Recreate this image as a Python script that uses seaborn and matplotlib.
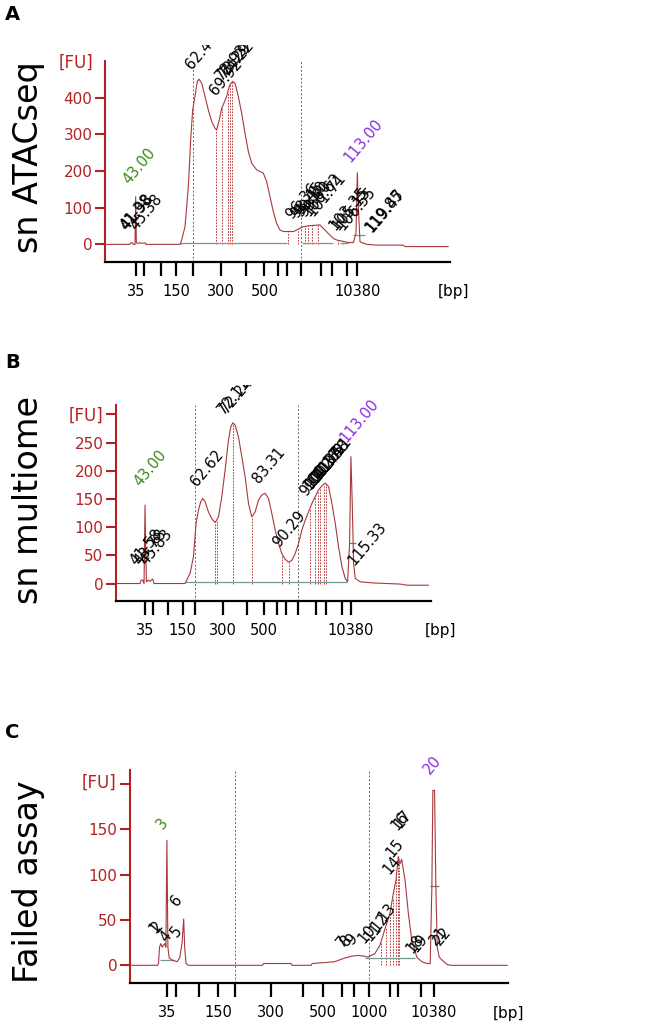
import numpy as np
import matplotlib
matplotlib.use("Agg")
import matplotlib.pyplot as plt
import seaborn as sns

# ---- panel A: sn ATACseq (migration time, fluorescence units)
a_time = [31.5, 39.0, 39.2, 39.8, 40.0, 40.5, 40.7, 40.9, 41.2, 42.0, 42.5, 43.5, 43.8,
          54.0, 54.5, 55.5, 56.5, 57.2, 57.8, 58.5, 59.2, 59.7, 60.5, 61.5, 62.5, 63.5,
          64.5, 65.0, 65.8, 66.5, 67.2, 68.0, 68.5, 69.0, 69.8, 70.5, 71.5, 72.5, 73.5,
          74.5, 75.5, 77.0, 79.0, 80.0, 81.0, 82.0, 83.0, 84.0, 85.0, 88.0, 89.0, 90.0,
          91.0, 93.0, 96.0, 96.5, 97.5, 99.0, 100.0, 101.0, 103.0, 104.5, 106.0, 106.8,
          107.2, 107.5, 108.0, 110.0, 113.0, 121.0, 121.5, 134.5]
a_fu = [0, 0, 4, 4, 0, 0, 130, 5, 3, 4, 3, 4, 0,
        0, 12, 48, 157, 285, 366, 403, 444, 450, 439, 403, 366, 335,
        316, 312, 339, 371, 385, 403, 421, 435, 444, 439, 403, 357, 303,
        253, 221, 203, 194, 171, 130, 89, 57, 39, 35, 35, 39, 44,
        48, 51, 53, 48, 39, 25, 16, 12, 8, 5, 5, 30,
        195, 103, 7, 0, -2, -2, -6, -6]
a_ticks = [40.7, 43.2, 48.4, 52.8, 57.8, 66.2, 73.7, 79.3, 83.5, 86.2, 90.2, 96.3, 99.7, 104.2, 107.2]
a_tick_labels = ["35", "", "", "150", "", "300", "", "500", "", "", "", "", "", "", "10380"]
a_markers = [57.8, 90.2]
a_bounds = [54.2, 64.8, 66.7, 68.3, 69.0, 69.7, 86.5, 89.5, 91.5, 92.5, 93.5, 95.5, 101.5, 103.0]
a_peak_text = ["41.38", "41.98", "45.38", "62.47", "69.92", "72.93", "73.29", "74.22",
               "96.36", "98.45", "99.10", "99.80", "100.62", "101.71",
               "103.35", "105.15", "106.55", "119.85", "119.47"]
a_peak_x = [38.7, 39.0, 41.6, 58.4, 65.4, 67.3, 68.2, 69.0,
            88.4, 89.8, 91.0, 92.2, 93.4, 94.6,
            101.3, 102.3, 103.6, 112.0, 112.4]
a_peak_y = [30, 30, 30, 470, 398, 440, 445, 450,
            62, 64, 66, 66, 68, 68,
            30, 30, 32, 25, 25]
a_lower = ("43.00", 39.4, 157)
a_upper = ("113.00", 105.9, 216)

# ---- panel B: sn multiome
b_time = [34.8, 42.0, 42.3, 42.8, 43.2, 43.5, 43.7, 43.9, 44.5, 45.0, 45.8, 46.2,
          55.5, 56.0, 57.0, 58.0, 58.8, 59.5, 60.2, 60.8, 61.5, 62.5, 63.5, 64.5, 65.5,
          66.5, 67.5, 68.5, 69.2, 69.8, 70.5, 71.5, 72.5, 73.5, 74.5, 75.5, 76.5, 77.5,
          78.5, 79.5, 80.5, 81.5, 82.5, 83.5, 84.5, 85.5, 86.5, 87.5, 88.5, 89.5, 90.5,
          91.5, 92.5, 93.5, 94.5, 95.5, 96.5, 97.5, 98.5, 99.5, 100.5, 101.5, 102.5,
          103.5, 104.2, 104.8, 105.2, 105.6, 106.0, 106.5, 108.0, 112.0, 120.0, 122.0, 128.5]
b_fu = [0, 0, 6, 6, 0, 139, 65, 3, 6, 4, 8, 0,
        0, 6, 18, 47, 107, 130, 145, 151, 145, 127, 115, 108, 118,
        154, 201, 254, 278, 285, 281, 260, 225, 189, 142, 118, 127, 148,
        157, 160, 151, 124, 95, 71, 53, 43, 38, 41, 53, 71, 95,
        112, 127, 142, 154, 166, 173, 178, 172, 142, 107, 65, 30,
        9, 3, 71, 225, 142, 36, 9, 3, 1, -1, -3, -3]
b_ticks = [43.5, 45.8, 50.5, 54.8, 58.5, 66.8, 74.0, 79.2, 83.0, 85.8, 89.3, 94.8, 97.8, 102.5, 105.2]
b_tick_labels = ["35", "", "", "150", "", "300", "", "500", "", "", "", "", "", "", "10380"]
b_markers = [58.5, 89.3]
b_bounds = [64.5, 65.0, 69.8, 75.5, 84.5, 86.5, 92.8, 94.5, 95.2, 96.0, 97.0, 97.6]
b_peak_text = ["41.58", "43.78", "45.83", "62.62", "72.11", "72.24", "83.31", "90.29",
               "99.41", "100.17", "101.04", "101.62", "102.58", "103.51", "115.33"]
b_peak_x = [41.7, 42.7, 44.6, 59.9, 67.9, 68.6, 78.4, 84.4,
            92.4, 93.4, 94.2, 95.0, 95.8, 96.6, 106.8]
b_peak_y = [28, 28, 28, 167, 296, 298, 173, 59,
            150, 160, 165, 170, 175, 180, 27]
b_lower = ("43.00", 42.8, 168)
b_upper = ("113.00", 104.4, 245)

# ---- panel C: failed assay
c_time = [39.0, 47.2, 47.5, 47.8, 48.2, 48.6, 49.0, 49.4, 49.7, 50.0, 50.3, 50.7, 51.5,
          53.0, 53.8, 54.5, 55.0, 55.3, 55.7, 56.5, 78.5, 78.8, 87.0, 87.3, 93.0, 93.3,
          97.0, 100.0, 103.0, 105.0, 107.0, 109.0, 110.0, 112.0, 113.5, 115.0, 116.5,
          117.5, 118.3, 119.0, 119.5, 120.0, 121.0, 122.0, 123.0, 124.5, 126.0, 127.5,
          128.5, 129.0, 129.3, 129.8, 130.2, 130.6, 131.2, 132.0, 133.5, 134.5, 151.5]
c_fu = [0, 0, 2, 20, 24, 20, 22, 24, 20, 138, 20, 8, 6,
        4, 8, 24, 51, 20, 2, 0, 0, 2, 2, 0, 0, 2,
        3, 4, 8, 10, 11, 10, 9, 13, 22, 40, 57,
        79, 94, 120, 112, 117, 94, 57, 28, 9, 4, 2,
        2, 86, 193, 193, 86, 20, 9, 6, 1, 0, 0]
c_ticks = [50.0, 52.7, 59.7, 65.2, 70.4, 81.0, 90.5, 96.5, 102.2, 105.8, 110.3, 116.5, 119.0, 125.8, 129.5]
c_tick_labels = ["35", "", "", "150", "", "300", "", "500", "", "", "1000", "", "", "", "10380"]
c_markers = [70.4, 110.3]
c_bounds = [113.8, 115.2, 116.4, 117.3, 118.4, 118.9, 119.3]
c_peak_text = ["1", "2", "4", "5", "6", "7", "8", "9", "10", "11", "12", "13",
               "14", "15", "16", "17", "18", "19", "21", "22"]
c_peak_x = [47.2, 48.0, 50.6, 53.6, 53.6, 103.0, 104.3, 106.0, 109.5, 111.5, 113.5, 115.5,
            117.0, 118.0, 119.5, 120.2, 124.0, 125.0, 131.0, 132.0]
c_peak_y = [32, 33, 22, 28, 62, 17, 18, 19, 21, 24, 35, 46,
            98, 116, 146, 148, 10, 11, 19, 19]
c_lower = ("3", 49.5, 147)
c_upper = ("20", 129.0, 208)

sns.set_style("white")
plt.rcParams["font.family"] = ["DejaVu Sans"]
plt.rcParams["text.color"] = "black"

RED = "#b22222"
TRACE = "#a8383c"

fig = plt.figure(figsize=(6.64, 10.25), dpi=100)


def add_axes_px(x0, x1, ytop, ybot):
    W, H = 664.0, 1025.0
    return fig.add_axes([x0 / W, 1 - ybot / H, (x1 - x0) / W, (ybot - ytop) / H])


def draw_panel(ax, t, fu, xlim, ylim, ytop, yticks, ylabels, ticks, tick_labels,
               markers, bounds, ptext, px, py, lower, upper, bp_x, fu_xy):
    sns.lineplot(x=t, y=fu, ax=ax, color=TRACE, linewidth=0.8, estimator=None,
                 sort=False, zorder=3)
    t_arr = np.array(t)
    fu_arr = np.array(fu)
    # peak boundary lines
    for b in bounds:
        ax.vlines(b, 0, np.interp(b, t_arr, fu_arr), color=RED, lw=0.6,
                  linestyles=(0, (2, 1.5)), zorder=2)
    # lower / upper marker dotted lines
    ax.vlines(markers, ylim[0], ytop, color="#666666", lw=0.7,
              linestyles=(0, (2, 2)), zorder=1)
    ax.set_xlim(*xlim)
    ax.set_ylim(*ylim)
    ax.set_xticks(ticks)
    ax.set_xticklabels(tick_labels, fontsize=10.5)
    ax.set_yticks(yticks)
    ax.set_yticklabels(ylabels, fontsize=11, color=RED)
    ax.tick_params(axis="x", bottom=True, direction="out", length=10, width=1.6,
                   color="black", labelcolor="black", pad=6)
    ax.tick_params(axis="y", left=True, direction="out", length=7, width=1.5,
                   color=RED, labelcolor=RED, pad=2)
    for s in ["top", "right"]:
        ax.spines[s].set_visible(False)
    ax.spines["left"].set_color(RED)
    ax.spines["left"].set_linewidth(1.5)
    ax.spines["left"].set_bounds(ylim[0], ytop)
    ax.spines["bottom"].set_color("black")
    ax.spines["bottom"].set_linewidth(1.6)
    ax.set_xlabel("")
    ax.set_ylabel("")
    ax.patch.set_alpha(0)
    for s, x, y in zip(ptext, px, py):
        ax.text(x, y, s, rotation=50, rotation_mode="anchor", ha="left", va="bottom",
                fontsize=10.5, color="black", clip_on=True, zorder=4)
    ax.text(lower[1], lower[2], lower[0], rotation=50, rotation_mode="anchor",
            ha="left", va="bottom", fontsize=10.5, color="#3a8a1a", clip_on=True)
    ax.text(upper[1], upper[2], upper[0], rotation=50, rotation_mode="anchor",
            ha="left", va="bottom", fontsize=10.5, color="#8a2be2", clip_on=True)
    ax.text(bp_x, -0.1, "[bp]", transform=ax.transAxes, ha="center", va="top",
            fontsize=11, clip_on=False)
    ax.text(fu_xy[0], fu_xy[1], "[FU]", transform=ax.transAxes, ha="right",
            va="center", fontsize=12, color=RED, clip_on=False)


ax_a = add_axes_px(105, 450, 45, 262)
draw_panel(ax_a, a_time, a_fu, (31.5, 135.0), (-48, 543), 500,
           [0, 100, 200, 300, 400], ["0", "100", "200", "300", "400"],
           a_ticks, a_tick_labels, a_markers, a_bounds,
           a_peak_text, a_peak_x, a_peak_y, a_lower, a_upper, 1.01, (-0.035, 0.92))
# baselines (gray-green)
ax_a.hlines([4, 3, 3, 26], [54.0, 90.5, 102.0, 106.0], [86.0, 100.0, 104.5, 109.5],
            color="#6f9a96", lw=0.9, zorder=2)

ax_b = add_axes_px(116, 431, 385, 601)
draw_panel(ax_b, b_time, b_fu, (34.8, 129.2), (-31, 352), 316,
           [0, 50, 100, 150, 200, 250, 300], ["0", "50", "100", "150", "200", "250", ""],
           b_ticks, b_tick_labels, b_markers, b_bounds,
           b_peak_text, b_peak_x, b_peak_y, b_lower, b_upper, 1.03, (-0.04, 0.86))
ax_b.hlines([3, 72], [55.5, 104.5], [104.0, 106.8], color=["#6f9a96", "#777777"], lw=0.9, zorder=2)

ax_c = add_axes_px(130, 508, 755, 983)
draw_panel(ax_c, c_time, c_fu, (39.0, 151.7), (-19.5, 232), 216,
           [0, 50, 100, 150, 200], ["0", "50", "100", "150", ""],
           c_ticks, c_tick_labels, c_markers, c_bounds,
           c_peak_text, c_peak_x, c_peak_y, c_lower, c_upper, 1.0, (-0.035, 0.88))
ax_c.hlines([6, 8, 88, 72], [47.8, 109.0, 128.5, 49.6], [52.0, 124.0, 131.0, 50.4],
            color=["#6f9a96", "#6f9a96", "#777777", "#555555"], lw=0.9, zorder=2)

# row titles and panel letters
fig.text(29 / 664, 1 - 157 / 1025, "sn ATACseq", rotation=90, ha="center", va="center", fontsize=24)
fig.text(29 / 664, 1 - 500 / 1025, "sn multiome", rotation=90, ha="center", va="center", fontsize=24)
fig.text(29 / 664, 1 - 882 / 1025, "Failed assay", rotation=90, ha="center", va="center", fontsize=24)
fig.text(5 / 664, 1 - 15 / 1025, "A", fontweight="bold", fontsize=14, va="center")
fig.text(5 / 664, 1 - 362 / 1025, "B", fontweight="bold", fontsize=14, va="center")
fig.text(5 / 664, 1 - 733 / 1025, "C", fontweight="bold", fontsize=14, va="center")

fig.savefig("out.png", dpi=100)
